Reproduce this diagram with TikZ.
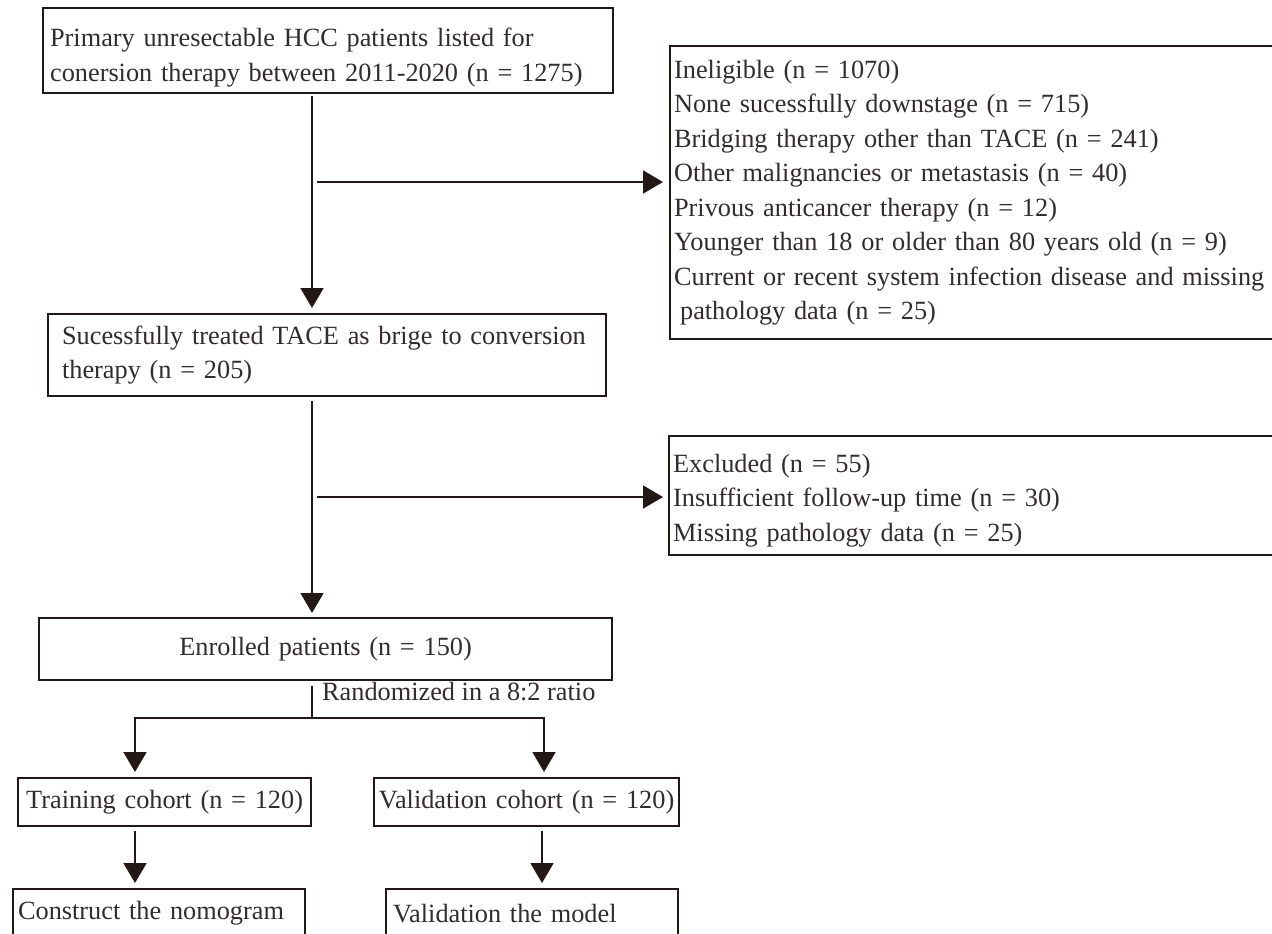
\documentclass[tikz,border=0pt]{standalone}
\usepackage{fontspec}
\setmainfont{Liberation Serif}
\usetikzlibrary{arrows.meta}
\definecolor{ink}{RGB}{35,24,21}
\definecolor{txt}{RGB}{50,45,43}
\newcommand{\dnstrut}[1]{\rule{0pt}{#1}}
\hyphenpenalty=10000
\exhyphenpenalty=10000
\begin{document}
\begin{tikzpicture}[x=1bp,y=-1bp,
  box/.style={draw=ink,line width=2.2bp,rectangle,anchor=north west,inner xsep=4bp,inner ysep=0bp,
    font=\fontsize{26.3bp}{34.5bp}\selectfont,text=txt,align=left},
  cbox/.style={box,align=center,inner xsep=1bp},
  lbl/.style={font=\fontsize{26.3bp}{34.5bp}\selectfont,text=txt,inner sep=0bp},
  conn/.style={draw=ink,line width=1.8bp},
  arr/.style={conn,-{Triangle[length=20bp,width=23bp]}}]
\useasboundingbox (0,0) rectangle (1272,934);
\fill[white] (0,0) rectangle (1272,934);
\clip (0,0) rectangle (1272,934);

% left column boxes
\node[box,inner xsep=7bp,text width=556bp,minimum height=85bp] (b1) at (42,7)
  {\dnstrut{32bp}Primary unresectable HCC patients listed for\\conersion therapy between 2011-2020 (n = 1275)};
\node[box,inner xsep=14bp,text width=530bp,minimum height=82bp] (b2) at (47,313)
  {Sucessfully treated TACE as brige to conversion\\therapy (n = 205)};
\node[cbox,text width=571bp,minimum height=62bp] (b3) at (38,617)
  {Enrolled patients (n = 150)};
\node[cbox,text width=291bp,minimum height=48bp] (b4) at (17,777)
  {Training cohort (n = 120)};
\node[cbox,text width=303bp,minimum height=48bp] (b5) at (373,777)
  {Validation cohort (n = 120)};
\node[box,inner xsep=5bp,text width=282bp,minimum height=48bp] (b6) at (12,888)
  {Construct the nomogram};
\node[box,inner xsep=7bp,text width=278bp,minimum height=48bp] (b7) at (385,888)
  {Validation the model};

% right exclusion boxes
\node[box,text width=640bp,minimum height=293bp] (r1) at (669,45)
  {Ineligible (n = 1070)\\None sucessfully downstage (n = 715)\\Bridging therapy other than TACE (n = 241)\\Other malignancies or metastasis (n = 40)\\Privous anticancer therapy (n = 12)\\Younger than 18 or older than 80 years old (n = 9)\\Current or recent system infection disease and missing\\\hspace*{6bp}pathology data (n = 25)};
\node[box,text width=640bp,minimum height=119bp] (r2) at (668,435)
  {\dnstrut{28bp}Excluded (n = 55)\\Insufficient follow-up time (n = 30)\\Missing pathology data (n = 25)};

% connectors
\coordinate (m) at (312,0);
\coordinate (cl) at (135,0);
\coordinate (cr) at (544,0);
\coordinate (cr2) at (542,0);
\coordinate (j1) at (317,182);
\coordinate (j2) at (317,497);
\coordinate (s) at (312,718);

\draw[arr,shorten <=2bp,shorten >=5bp] (b1.south -| m) -- (b2.north -| m);
\draw[arr,shorten >=6bp] (j1) -- (j1 -| r1.west);
\draw[arr,shorten <=4bp,shorten >=4bp] (b2.south -| m) -- (b3.north -| m);
\draw[arr,shorten >=5bp] (j2) -- (j2 -| r2.west);
\draw[conn,shorten <=5bp] (b3.south -| m) -- (s);
\draw[arr,shorten >=5bp] (s) -| (b4.north -| cl);
\draw[arr,shorten >=5bp] (s) -| (b5.north -| cr);
\node[lbl,anchor=west] (rl) at (322,692) {Randomized in a 8:2 ratio};
\draw[arr,shorten <=4bp,shorten >=5bp] (b4.south -| cl) -- (b6.north -| cl);
\draw[arr,shorten <=4bp,shorten >=5bp] (b5.south -| cr2) -- (b7.north -| cr2);
\end{tikzpicture}
\end{document}
